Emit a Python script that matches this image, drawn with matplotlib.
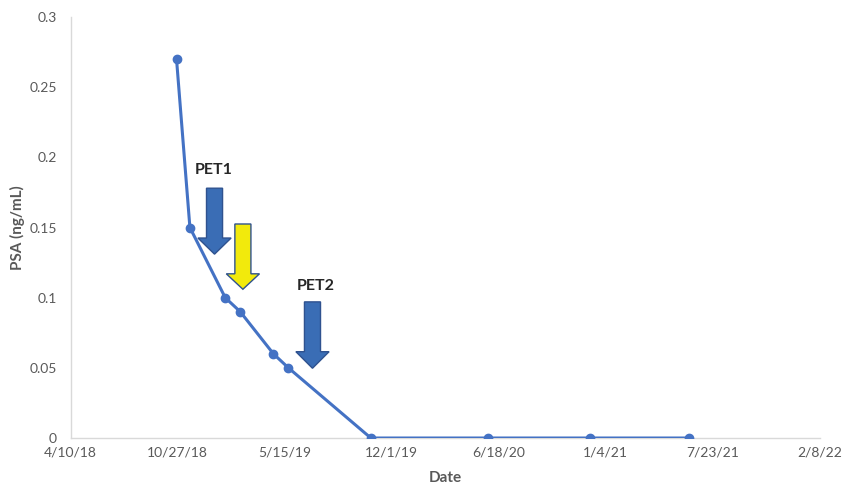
import pandas as pd
import matplotlib
matplotlib.use("Agg")
import matplotlib.pyplot as plt
from matplotlib.patches import Polygon
import matplotlib.dates as mdates

# dados
dates = ["2018-10-25", "2018-11-19", "2019-01-24", "2019-02-21", "2019-04-24",
         "2019-05-22", "2019-10-23", "2020-05-29", "2020-12-05", "2021-06-08"]
psa = [0.27, 0.15, 0.10, 0.09, 0.06, 0.05, 0, 0, 0, 0]

tick_start = "2018-04-10"
tick_step_days = 200
n_ticks = 8
y_ticks = [0, 0.05, 0.1, 0.15, 0.2, 0.25, 0.3]

# setas: (centro, topo, base da cabeça, ponta, cor)
arrows = [
    ("2019-01-04", 0.178, 0.1425, 0.131, "#3a6db5"),
    ("2019-02-26", 0.1525, 0.117, 0.106, "#f2ea0c"),
    ("2019-07-06", 0.097, 0.0615, 0.0497, "#3a6db5"),
]
labels = [("PET1", "2019-01-02", 0.191), ("PET2", "2019-07-12", 0.108)]

plt.rcParams["font.family"] = ["Lato", "DejaVu Sans"]

x = pd.to_datetime(dates)
ticks = pd.date_range(tick_start, periods=n_ticks, freq=f"{tick_step_days}D")

fig = plt.figure(figsize=(8.53, 4.87), dpi=100)
ax = fig.add_axes([0.0827, 0.1006, 0.8785, 0.8645])

ax.plot(x, psa, color="#4472c4", linewidth=2.2, marker="o", markersize=6, zorder=3)

shaft_half = pd.Timedelta(days=15)
head_half = pd.Timedelta(days=31)
for c, top, hb, tip, col in arrows:
    c = pd.Timestamp(c)
    pts = [
        (c - shaft_half, top), (c + shaft_half, top), (c + shaft_half, hb),
        (c + head_half, hb), (c, tip), (c - head_half, hb), (c - shaft_half, hb),
    ]
    pts = [(mdates.date2num(p[0]), p[1]) for p in pts]
    ax.add_patch(Polygon(pts, closed=True, facecolor=col, edgecolor="#2f528f",
                         linewidth=1.0, zorder=4))

for txt, d, yv in labels:
    ax.text(pd.Timestamp(d), yv, txt, ha="center", va="center", fontsize=11.5,
            fontweight="bold", color="#262626")

ax.set_xlim(ticks[0], ticks[-1])
ax.set_ylim(0, 0.3)
ax.set_xticks(ticks)
ax.set_xticklabels([f"{d.month}/{d.day}/{d:%y}" for d in ticks])
ax.set_yticks(y_ticks)
ax.set_yticklabels(["0", "0.05", "0.1", "0.15", "0.2", "0.25", "0.3"])

ax.tick_params(axis="both", length=0, labelsize=10, colors="#595959")
ax.tick_params(axis="y", pad=10)
ax.tick_params(axis="x", pad=6)
for s in ["top", "right"]:
    ax.spines[s].set_visible(False)
for s in ["left", "bottom"]:
    ax.spines[s].set_color("#d9d9d9")
    ax.spines[s].set_linewidth(1)

ax.set_xlabel("Date", fontsize=11, fontweight="bold", color="#595959", labelpad=9)
ax.set_ylabel("PSA (ng/mL)", fontsize=11, fontweight="bold", color="#595959", labelpad=3)

fig.savefig("out.png", dpi=100)
